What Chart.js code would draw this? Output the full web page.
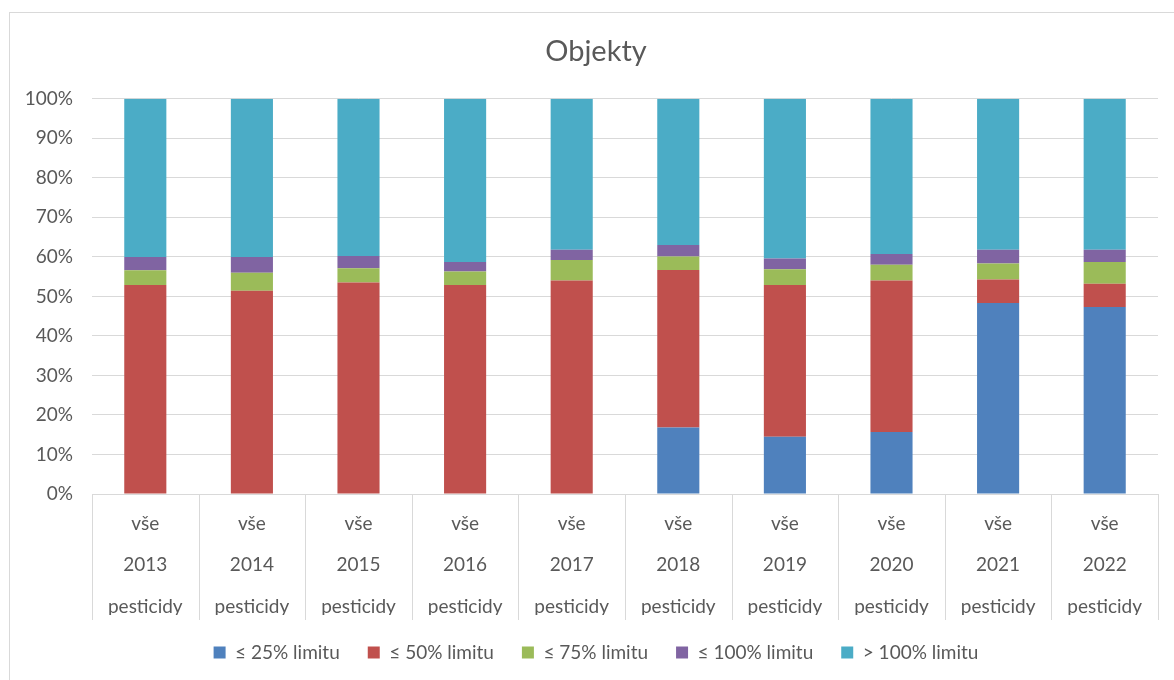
<!DOCTYPE html>
<html>
<head>
<meta charset="utf-8">
<script src="https://cdn.jsdelivr.net/npm/chart.js@4/dist/chart.umd.min.js"></script>
<style>
    html, body { margin: 0; padding: 0; background: #fff; overflow: hidden; }
    #frame { position: absolute; left: 9px; top: 12px; width: 1200px; height: 700px; border: 1px solid #d9d9d9; }
    #objekty-chart { position: absolute; left: 0; top: 0; }
</style>
</head>
<body>
<div id="frame"></div>
<canvas id="objekty-chart" width="1174" height="680"></canvas>
<script>
const years = ["2013", "2014", "2015", "2016", "2017", "2018", "2019", "2020", "2021", "2022"];
const topLabel = "vše";
const bottomLabel = "pesticidy";

const seriesNames = ["≤ 25% limitu", "≤ 50% limitu", "≤ 75% limitu", "≤ 100% limitu", "> 100% limitu"];
const seriesColors = ["#4f81bd", "#c0504d", "#9bbb59", "#8064a2", "#4bacc6"];

// shares in % of objects per year
const upTo25 = [0, 0, 0, 0, 0, 16.8, 14.5, 15.7, 48.3, 47.3];
const upTo50 = [52.9, 51.4, 53.5, 52.9, 54.0, 39.9, 38.4, 38.3, 6.0, 5.9];
const upTo75 = [3.7, 4.6, 3.6, 3.4, 5.2, 3.4, 4.0, 4.0, 4.0, 5.5];
const upTo100 = [3.4, 4.0, 3.1, 2.4, 2.6, 2.9, 2.7, 2.7, 3.5, 3.1];
const over100 = [40.0, 40.0, 39.8, 41.3, 38.2, 37.0, 40.4, 39.3, 38.2, 38.2];

const seriesValues = [upTo25, upTo50, upTo75, upTo100, over100];

const font = "Lato, 'Open Sans', sans-serif";
const textColor = "#595959";
const lineColor = "#d9d9d9";
const dividerLength = 126;

const labels = years.map(y => [topLabel, y, bottomLabel]);

const datasets = seriesNames.map((name, i) => ({
    label: name,
    data: seriesValues[i],
    backgroundColor: seriesColors[i],
    borderWidth: 0,
    categoryPercentage: 1,
    barPercentage: 0.395
}));

// vertical lines between the multi-level category labels
const categoryDividers = {
    id: "categoryDividers",
    afterLayout(chart) {
        // let the y tick labels use the space left of the padding
        chart.scales.y.left = 0;
    },
    afterDraw(chart) {
        const xs = chart.scales.x;
        const n = xs.ticks.length;
        const c = chart.ctx;
        c.save();
        c.strokeStyle = lineColor;
        c.lineWidth = 1;
        for (let i = 0; i <= n; i++) {
            let x;
            if (i === 0) x = xs.left;
            else if (i === n) x = xs.right;
            else x = (xs.getPixelForTick(i - 1) + xs.getPixelForTick(i)) / 2;
            x = Math.round(x) + 0.5;
            c.beginPath();
            c.moveTo(x, xs.top);
            c.lineTo(x, xs.top + dividerLength);
            c.stroke();
        }
        c.restore();
    }
};

const ctx = document.getElementById("objekty-chart").getContext("2d");

new Chart(ctx, {
    type: "bar",
    data: {
        labels: labels,
        datasets: datasets
    },
    plugins: [categoryDividers],
    options: {
        responsive: false,
        animation: false,
        layout: {
            padding: { left: 34, right: 16, top: 0, bottom: 8 }
        },
        scales: {
            x: {
                stacked: true,
                afterFit: scale => { scale.height = 121; },
                grid: { display: false },
                border: { display: true, color: lineColor },
                ticks: {
                    padding: 1,
                    color: textColor,
                    font: { family: font, size: 19, lineHeight: 2.18 },
                    maxRotation: 0,
                    autoSkip: false
                }
            },
            y: {
                stacked: true,
                min: 0,
                max: 100,
                afterFit: scale => { scale.width = 58; },
                grid: { color: lineColor, drawTicks: false },
                border: { display: false },
                ticks: {
                    stepSize: 10,
                    padding: 19,
                    color: textColor,
                    font: { family: font, size: 19 },
                    callback: v => v + "%"
                }
            }
        },
        plugins: {
            title: {
                display: true,
                text: "Objekty",
                color: textColor,
                font: { family: font, size: 29, weight: "normal" },
                padding: { top: 34, bottom: 30 }
            },
            legend: {
                position: "bottom",
                labels: {
                    color: textColor,
                    boxWidth: 12,
                    boxHeight: 12,
                    padding: 28,
                    font: { family: font, size: 19 }
                }
            },
            tooltip: { enabled: false }
        }
    }
});
</script>
</body>
</html>
